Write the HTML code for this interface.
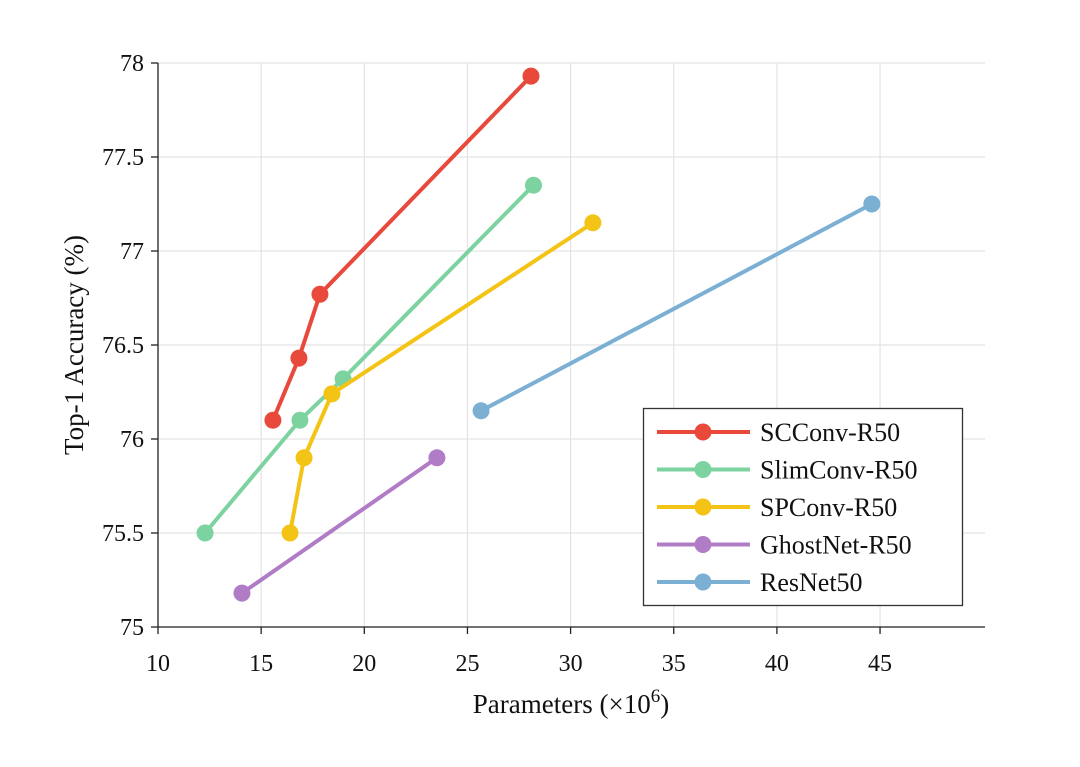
<!DOCTYPE html>
<html><head><meta charset="utf-8"><style>
body{margin:0;background:#fff;}
svg text{font-family:"Liberation Serif",serif;fill:#111;}
</style></head><body>
<svg id="chart" width="1080" height="762" xmlns="http://www.w3.org/2000/svg">
<g id="grid"></g>
<g id="axes"></g>
<g id="series"></g>
<g id="legend"></g>
</svg>
<script>
const xTicks=[10,15,20,25,30,35,40,45];
const yTicks=[75,75.5,76,76.5,77,77.5,78];
const yTickLabels=["75","75.5","76","76.5","77","77.5","78"];
const seriesNames=["SCConv-R50","SlimConv-R50","SPConv-R50","GhostNet-R50","ResNet50"];
const seriesColors=["#e8493b","#7dd3a0","#f3c316","#b07cc6","#7bafd4"];
const scconvX=[15.57,16.83,17.85,28.08];
const scconvY=[76.1,76.43,76.77,77.93];
const slimX=[12.28,16.88,18.97,28.2];
const slimY=[75.5,76.1,76.32,77.35];
const spX=[16.4,17.08,18.43,31.08];
const spY=[75.5,75.9,76.24,77.15];
const ghostX=[14.07,23.52];
const ghostY=[75.18,75.9];
const resX=[25.66,44.6];
const resY=[76.15,77.25];
const seriesX=[scconvX,slimX,spX,ghostX,resX];
const seriesY=[scconvY,slimY,spY,ghostY,resY];

const NS="http://www.w3.org/2000/svg";
const L=158,R=985,T=63,B=627;
const xs=v=>158+(v-10)*20.63;
const ys=v=>627-(v-75)*188;
function mk(tag,attrs,parent){const e=document.createElementNS(NS,tag);for(const k in attrs)e.setAttribute(k,attrs[k]);parent.appendChild(e);return e;}
const grid=document.getElementById('grid'),axes=document.getElementById('axes'),series=document.getElementById('series'),legend=document.getElementById('legend');
xTicks.forEach((t,i)=>{
  const x=xs(t);
  const g=mk('line',{x1:x,x2:x,y1:T,y2:B,stroke:'#e3e3e3','stroke-width':1.2},grid);
  
  
  const tk=mk('line',{x1:x,x2:x,y1:B,y2:B+7,stroke:'#222','stroke-width':1.3},axes);
  
  
  const tx=mk('text',{x:x,y:B+44,'text-anchor':'middle','font-size':24},axes);
  tx.textContent=String(t);
  
  
});
yTicks.forEach((t,i)=>{
  const y=ys(t);
  const g=mk('line',{x1:L,x2:R,y1:y,y2:y,stroke:'#e3e3e3','stroke-width':1.2},grid);
  
  
  const tk=mk('line',{x1:L-7,x2:L,y1:y,y2:y,stroke:'#222','stroke-width':1.3},axes);
  
  
  const tx=mk('text',{x:L-14,y:y+8,'text-anchor':'end','font-size':24},axes);
  tx.textContent=yTickLabels[i];
  
  
});
const ax1=mk('line',{x1:L,x2:L,y1:T,y2:B,stroke:'#222','stroke-width':1.3},axes);


const ax2=mk('line',{x1:L,x2:R,y1:B,y2:B,stroke:'#222','stroke-width':1.3},axes);


const xt=mk('text',{x:571,y:713,'text-anchor':'middle','font-size':27},axes);
xt.innerHTML='Parameters (×10<tspan dy="-11" font-size="19">6</tspan><tspan dy="11">)</tspan>';


const yt=mk('text',{x:0,y:0,'text-anchor':'middle','font-size':27,transform:'translate(83,345) rotate(-90)'},axes);
yt.textContent='Top-1 Accuracy (%)';


seriesNames.forEach((n,i)=>{
  const g=mk('g',{},series);
  
  
  const pts=seriesX[i].map((x,j)=>xs(x)+','+ys(seriesY[i][j])).join(' ');
  const pl=mk('polyline',{points:pts,fill:'none',stroke:seriesColors[i],'stroke-width':4},g);
  
  
  seriesX[i].forEach((x,j)=>{
    const c=mk('circle',{cx:xs(x),cy:ys(seriesY[i][j]),r:8.5,fill:seriesColors[i]},g);
    
    
  });
});
const box=mk('rect',{x:643.5,y:408.5,width:319,height:197,fill:'#fff',stroke:'#333','stroke-width':1.3},legend);


seriesNames.forEach((n,i)=>{
  const y=432+i*37.5;
  const g=mk('g',{},legend);
  
  
  mk('line',{x1:657,x2:750,y1:y,y2:y,stroke:seriesColors[i],'stroke-width':4},g);
  mk('circle',{cx:703,cy:y,r:8.5,fill:seriesColors[i]},g);
  const t=mk('text',{x:760,y:y+9,'font-size':26},g);
  t.textContent=n;
});
</script>
</body></html>
